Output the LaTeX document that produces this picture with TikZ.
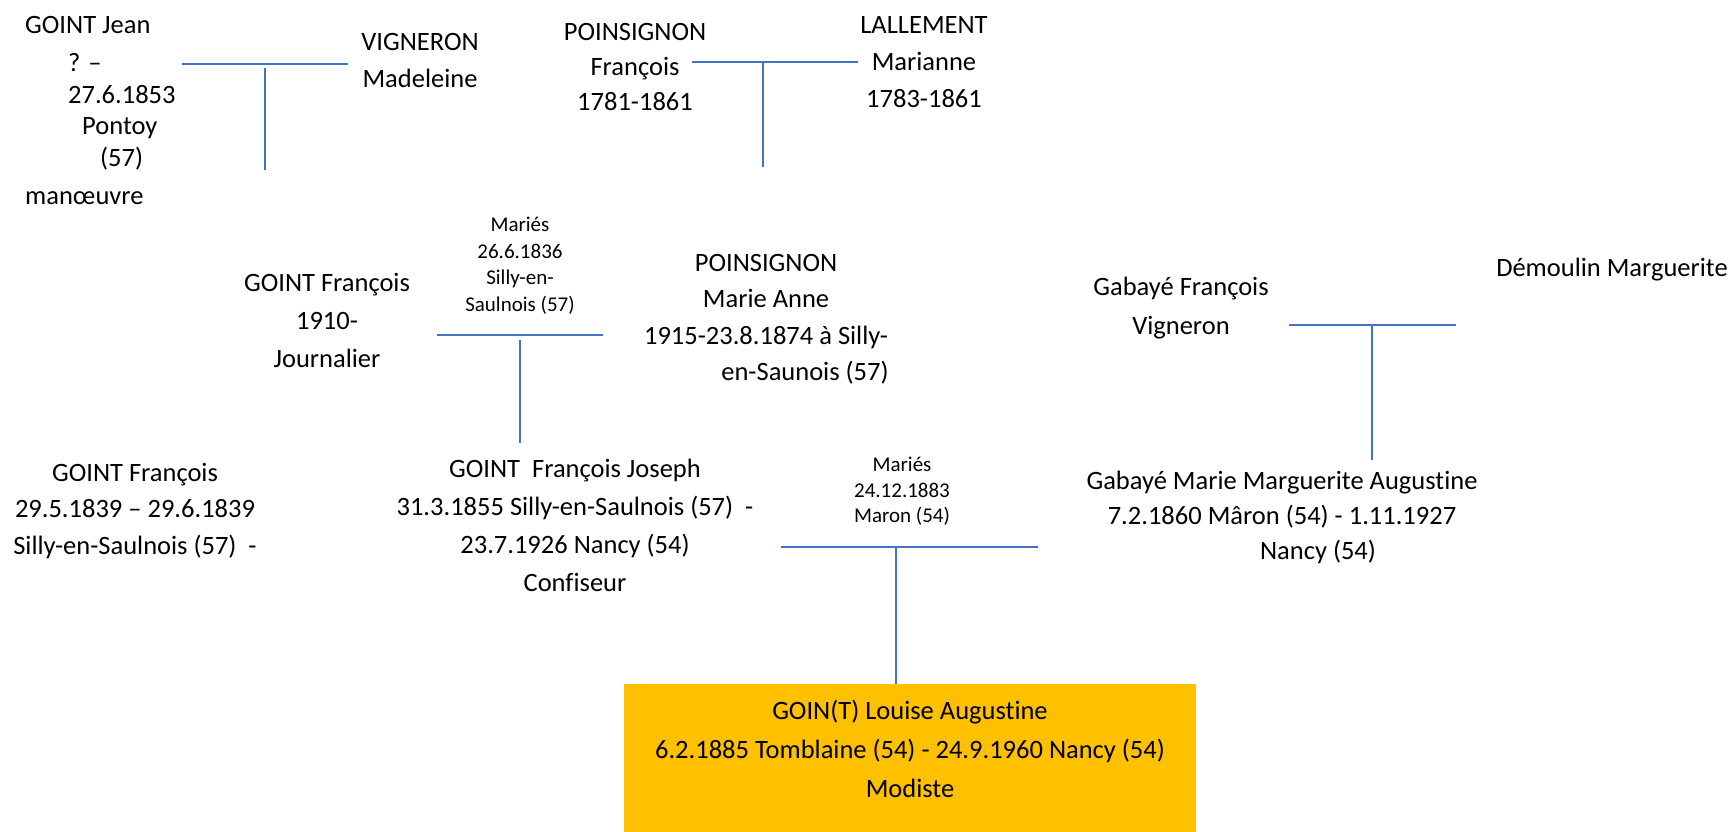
\documentclass[tikz,border=0pt]{standalone}
\usepackage{fontspec}
\usepackage{xcolor}
\usepackage{tikz}
\usetikzlibrary{positioning, calc}
\setmainfont{Carlito}[Ligatures=NoCommon]
\definecolor{lineblue}{HTML}{4472C4}
\definecolor{boxgold}{HTML}{FFC000}

\begin{document}
\begin{tikzpicture}[
    x=1pt, y=-1pt,
    person/.style={align=center, inner sep=0pt, font=\fontsize{26.5}{37}\selectfont},
    wedding/.style={align=center, inner sep=0pt, font=\fontsize{21}{26.5}\selectfont},
    focus/.style={rectangle, fill=boxgold, inner sep=0pt, minimum width=572pt, minimum height=148pt},
    link/.style={draw=lineblue, line width=2pt}
]
\useasboundingbox (0,0) rectangle (1729,832);
\node[person, align=left, anchor=north west, font=\fontsize{26.5}{31.5}\selectfont] (jean) at (25,16)
    {GOINT Jean\\[7pt] \hspace*{43pt}? –\\ \hspace*{43pt}27.6.1853\\ \hspace*{57pt}Pontoy\\ \hspace*{75pt}(57)\\[7pt] manœuvre};
\node[person, anchor=north] (madeleine) at (420,33) {VIGNERON\\ Madeleine};
\node[person, anchor=north, font=\fontsize{26.5}{35}\selectfont] (pfrancois) at (635,23) {POINSIGNON\\ François\\ 1781-1861};
\node[person, anchor=north] (marianne) at (924,16) {LALLEMENT\\ Marianne\\ 1783-1861};
\node[person, anchor=north, font=\fontsize{26.5}{38}\selectfont] (gfrancois) at (327,273) {GOINT François\\ 1910-\\ Journalier};
\node[wedding, anchor=north] (wed1) at (520,217) {Mariés\\ 26.6.1836\\ Silly-en-\\ Saulnois (57)};
\node[person, anchor=north, font=\fontsize{26.5}{36.5}\selectfont] (marieanne) at (766,254)
    {POINSIGNON\\ Marie Anne\\ 1915-23.8.1874 à Silly-\\ \hspace*{78pt}en-Saunois (57)};
\node[person, anchor=north, font=\fontsize{26.5}{39}\selectfont] (gabfrancois) at (1181,277) {Gabayé François\\ Vigneron};
\node[person, anchor=north] (demoulin) at (1612,258) {Démoulin Marguerite};
\node[person, anchor=north, font=\fontsize{26.5}{36.5}\selectfont] (enfant) at (135,463)
    {GOINT François\\ 29.5.1839 – 29.6.1839\\ Silly-en-Saulnois (57)\ \ -};
\node[person, anchor=north, font=\fontsize{26.5}{38}\selectfont] (fjoseph) at (575,459)
    {GOINT\ \ François Joseph\\ 31.3.1855 Silly-en-Saulnois (57)\ \ -\\ 23.7.1926 Nancy (54)\\ Confiseur};
\node[wedding, anchor=north, font=\fontsize{21}{25.5}\selectfont] (wed2) at (902,457) {Mariés\\ 24.12.1883\\ Maron (54)};
\node[person, anchor=north, font=\fontsize{26.5}{35}\selectfont] (gabmarie) at (1282,471)
    {Gabayé Marie Marguerite Augustine\\ 7.2.1860 Mâron (54) - 1.11.1927\\ \hspace*{72pt}Nancy (54)};
\node[focus, anchor=north] (louise) at (910,684) {};
\node[person, font=\fontsize{26.5}{39}\selectfont] (louisetxt) at ([yshift=9pt]louise.center)
    {GOIN(T) Louise Augustine\\ 6.2.1885 Tomblaine (54) - 24.9.1960 Nancy (54)\\ Modiste};

\coordinate (c1l) at (182,64); \coordinate (c1r) at (348,64); \coordinate (c1d) at (265,170);
\coordinate (c2l) at (692,62); \coordinate (c2r) at (858,62); \coordinate (c2d) at (763,167);
\coordinate (c3l) at (437,335); \coordinate (c3r) at (603,335); \coordinate (c3d) at (520,443);
\coordinate (c4l) at (1289,325); \coordinate (c4r) at (1456,325); \coordinate (c4d) at (1372,460);
\coordinate (c5l) at (781,547); \coordinate (c5r) at (1038,547); \coordinate (c5d) at (896,547);

\draw[link] (c1l) -- (c1r); \draw[link] ([yshift=-4pt]c1d |- c1l) -- (c1d);
\draw[link] (c2l) -- (c2r); \draw[link] (c2d |- c2l) -- (c2d);
\draw[link] (c3l) -- (c3r); \draw[link] ([yshift=-5pt]c3d |- c3l) -- (c3d);
\draw[link] (c4l) -- (c4r); \draw[link] (c4d |- c4l) -- (c4d);
\draw[link] (c5l) -- (c5r); \draw[link] (c5d) -- (louise.north -| c5d);
\end{tikzpicture}
\end{document}
